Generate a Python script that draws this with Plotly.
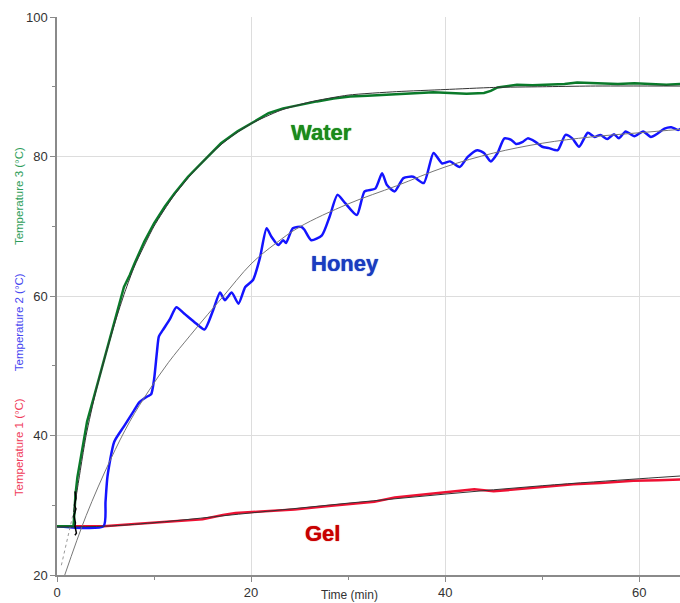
import plotly.graph_objects as go

# ---------------- data ----------------
water_t = [0, 1.0, 1.7, 1.8, 1.9, 2.1, 2.4, 2.8, 3.1, 3.8, 4.3, 4.8, 5.3, 5.9, 6.4, 6.9, 7.5, 8.0,
           9.0, 10.0, 11.1, 12.1, 13.5, 15.2, 16.9, 18.6, 20.4, 21.8, 23.3, 25.0, 26.8, 28.5,
           30.2, 32.0, 33.6, 35.4, 37.1, 38.8, 40.5, 42.2, 44.0, 44.7, 45.4, 47.4, 49.0, 50.9,
           52.3, 53.6, 55.7, 57.8, 59.5, 61.2, 62.8, 64.3]
water_v = [27.0, 27.0, 27.0, 29.0, 31.5, 34.0, 36.5, 39.5, 42.0, 45.5, 48.0, 50.5, 53.0, 56.0, 58.5,
           61.3, 63.0, 64.7, 67.8, 70.4, 72.8, 74.7, 77.1, 79.5, 81.9, 83.6, 85.0, 86.2, 86.9, 87.4,
           87.9, 88.3, 88.6, 88.7, 88.8, 89.0, 89.1, 89.2, 89.1, 89.0, 89.1, 89.4, 89.9, 90.3, 90.2,
           90.3, 90.4, 90.6, 90.5, 90.4, 90.5, 90.4, 90.3, 90.4]

honey_t = [0, 4.8, 5.0, 5.2, 5.9, 6.9, 7.9, 8.5, 9.3, 9.7, 10.0, 10.3, 10.5, 10.9, 11.6, 12.3, 13.1,
           14.3, 15.2, 16.1, 16.8, 17.3, 18.0, 18.7, 19.4, 20.2, 20.9, 21.6, 22.1, 22.8, 23.3, 23.6,
           24.3, 25.2, 25.5, 26.2, 27.3, 28.1, 28.9, 29.7, 30.9, 31.7, 32.8, 33.5, 34.0, 34.8, 35.7,
           36.7, 37.8, 38.8, 39.7, 40.5, 41.5, 42.3, 43.3, 44.0, 44.7, 45.4, 46.1, 46.8, 47.3, 48.0,
           48.5, 49.3, 50.0, 50.7, 51.6, 52.4, 53.1, 53.8, 54.7, 55.4, 56.0, 56.7, 57.4, 57.9, 58.6,
           59.5, 60.4, 61.2, 61.9, 62.6, 63.3, 64.0, 64.3]
honey_v = [27.0, 27.0, 30.5, 34.1, 39.1, 41.3, 43.5, 44.8, 45.6, 45.9, 48.0, 52.0, 54.2, 55.1, 56.6,
           58.4, 57.5, 56.1, 55.2, 58.0, 60.5, 59.4, 60.5, 58.9, 61.3, 62.3, 65.4, 69.7, 68.5, 67.3,
           68.0, 67.6, 69.7, 69.9, 69.5, 68.0, 68.7, 71.4, 74.5, 73.3, 71.6, 75.0, 75.4, 77.6, 75.9,
           75.0, 76.9, 77.1, 76.2, 80.5, 79.0, 79.3, 78.5, 79.9, 80.9, 80.5, 79.3, 80.5, 82.6, 82.4,
           81.8, 82.1, 82.6, 82.1, 81.4, 81.2, 80.9, 83.1, 82.6, 81.4, 83.4, 82.8, 83.1, 82.5, 83.2,
           82.6, 83.6, 82.9, 83.6, 82.8, 83.3, 84.0, 84.2, 83.8, 84.0]

gel_t = [0, 4.8, 8.0, 12.2, 15.0, 17.1, 18.4, 21.0, 24.5, 28.0, 32.7, 34.8, 37.5, 40.9, 43.0, 45.0,
         49.0, 53.2, 56.0, 59.4, 62.0, 64.3]
gel_v = [27.0, 27.0, 27.3, 27.7, 28.0, 28.6, 28.9, 29.1, 29.4, 29.9, 30.5, 31.1, 31.5, 31.9, 32.3,
         32.0, 32.5, 33.0, 33.2, 33.5, 33.6, 33.7]

# fitted curves (thin grey lines)
water_fit_t = [1.7, 2.0, 3.0, 4.0, 5.0, 6.0, 7.0, 8.0, 10.0, 12.0, 14.0, 16.0, 18.0, 20.0, 23.0,
               26.0, 30.0, 35.0, 40.0, 45.0, 50.0, 55.0, 64.3]
water_fit_v = [29.0, 31.5, 40.0, 46.3, 51.5, 56.3, 60.6, 64.3, 70.0, 74.3, 77.7, 80.6, 82.9, 84.7,
               86.6, 87.8, 88.8, 89.3, 89.6, 89.9, 90.0, 90.1, 90.1]
water_ext_t = [0.45, 1.7]
water_ext_v = [21.4, 29.0]

honey_fit_t = [0.8, 3.0, 5.5, 7.5, 9.5, 11.5, 13.7, 15.5, 17.1, 20.0, 22.5, 25.0, 30.0, 35.0, 40.0,
               45.0, 50.0, 55.0, 60.0, 64.3]
honey_fit_v = [20.0, 28.5, 36.5, 42.0, 46.5, 50.5, 54.3, 57.3, 59.9, 64.6, 67.5, 69.9, 73.2, 75.8,
               78.5, 80.5, 81.9, 82.8, 83.4, 83.9]

gel_fit_t = [0, 5, 10, 20, 30, 40, 50, 60, 64.3]
gel_fit_v = [26.9, 27.0, 27.5, 28.9, 30.3, 31.6, 32.8, 33.8, 34.2]

# black start-up jitter at the beginning of the water run
start_t = [1.85, 1.95, 1.8, 1.95, 1.75, 1.9, 1.85, 2.0, 1.85]
start_v = [32.0, 31.0, 30.0, 29.5, 28.5, 27.5, 27.0, 26.0, 25.7]

x_ticks = [0, 20, 40, 60]
y_ticks = [20, 40, 60, 80, 100]

labels = ["Water", "Honey", "Gel"]
label_t = [27.3, 29.7, 27.4]
label_v = [83.4, 64.7, 26.0]
label_colors = ["#1b8a1b", "#1a3cc0", "#c80000"]

y_titles = ["Temperature 3 (°C)", "Temperature 2 (°C)", "Temperature 1 (°C)"]
y_title_colors = ["#2e9e5a", "#4646f0", "#f03c5a"]
y_title_pos = [0.679, 0.453, 0.229]

# ---------------- figure ----------------
fig = go.Figure()
fig.add_trace(go.Scatter(x=gel_t, y=gel_v, mode="lines",
                         line=dict(color="#ee1133", width=2.5)))
fig.add_trace(go.Scatter(x=honey_t, y=honey_v, mode="lines",
                         line=dict(color="#1414ff", width=2.5, shape="spline", smoothing=0.6)))
fig.add_trace(go.Scatter(x=water_t, y=water_v, mode="lines",
                         line=dict(color="#0a7a2a", width=2.5)))
fig.add_trace(go.Scatter(x=water_fit_t, y=water_fit_v, mode="lines",
                         line=dict(color="#333333", width=1, shape="spline", smoothing=0.6)))
fig.add_trace(go.Scatter(x=water_ext_t, y=water_ext_v, mode="lines",
                         line=dict(color="#999999", width=1, dash="dot")))
fig.add_trace(go.Scatter(x=honey_fit_t, y=honey_fit_v, mode="lines",
                         line=dict(color="#777777", width=1, shape="spline")))
fig.add_trace(go.Scatter(x=gel_fit_t, y=gel_fit_v, mode="lines",
                         line=dict(color="#333333", width=1, shape="spline")))
fig.add_trace(go.Scatter(x=start_t, y=start_v, mode="lines",
                         line=dict(color="#000000", width=1.5)))

for txt, tx, ty, col in zip(labels, label_t, label_v, label_colors):
    fig.add_annotation(x=tx, y=ty, xref="x", yref="y", text=txt, showarrow=False,
                       font=dict(family="Liberation Sans, Arial", size=22, color=col,
                                 weight="bold", shadow="0px 0px 1px " + col))

for txt, py, col in zip(y_titles, y_title_pos, y_title_colors):
    fig.add_annotation(x=-0.061, y=py, xref="paper", yref="paper", text=txt, showarrow=False,
                       textangle=-90, xanchor="center", yanchor="middle",
                       font=dict(family="Liberation Sans, Arial", size=11.5, color=col))

fig.add_annotation(x=0.470, y=-0.035, xref="paper", yref="paper", text="Time (min)",
                   showarrow=False, xanchor="center", yanchor="middle",
                   font=dict(family="Liberation Sans, Arial", size=12, color="#333333"))

axis_common = dict(showgrid=True, gridcolor="#dddddd", gridwidth=1, zeroline=False,
                   showline=True, linecolor="#8a8a8a", linewidth=1.5,
                   ticks="outside", ticklen=5, tickcolor="#8a8a8a", automargin=False,
                   tickfont=dict(family="Liberation Sans, Arial", size=13, color="#333333"))

fig.update_xaxes(range=[0, 64.2], tickvals=x_ticks, ticklabelstandoff=0,
                 minor=dict(ticks="outside", ticklen=3, dtick=10, tick0=0, tickcolor="#8a8a8a"),
                 **axis_common)
fig.update_yaxes(range=[20, 100], tickvals=y_ticks,
                 minor=dict(ticks="outside", ticklen=3, dtick=10, tick0=0, tickcolor="#8a8a8a"),
                 **axis_common)

fig.update_layout(width=680, height=603, margin=dict(l=57, r=0, t=17, b=28),
                  paper_bgcolor="white", plot_bgcolor="white", showlegend=False)

fig.write_html("out.html", config={"displayModeBar": False},
               post_script="document.body.style.margin='0';document.body.style.overflow='hidden';")
